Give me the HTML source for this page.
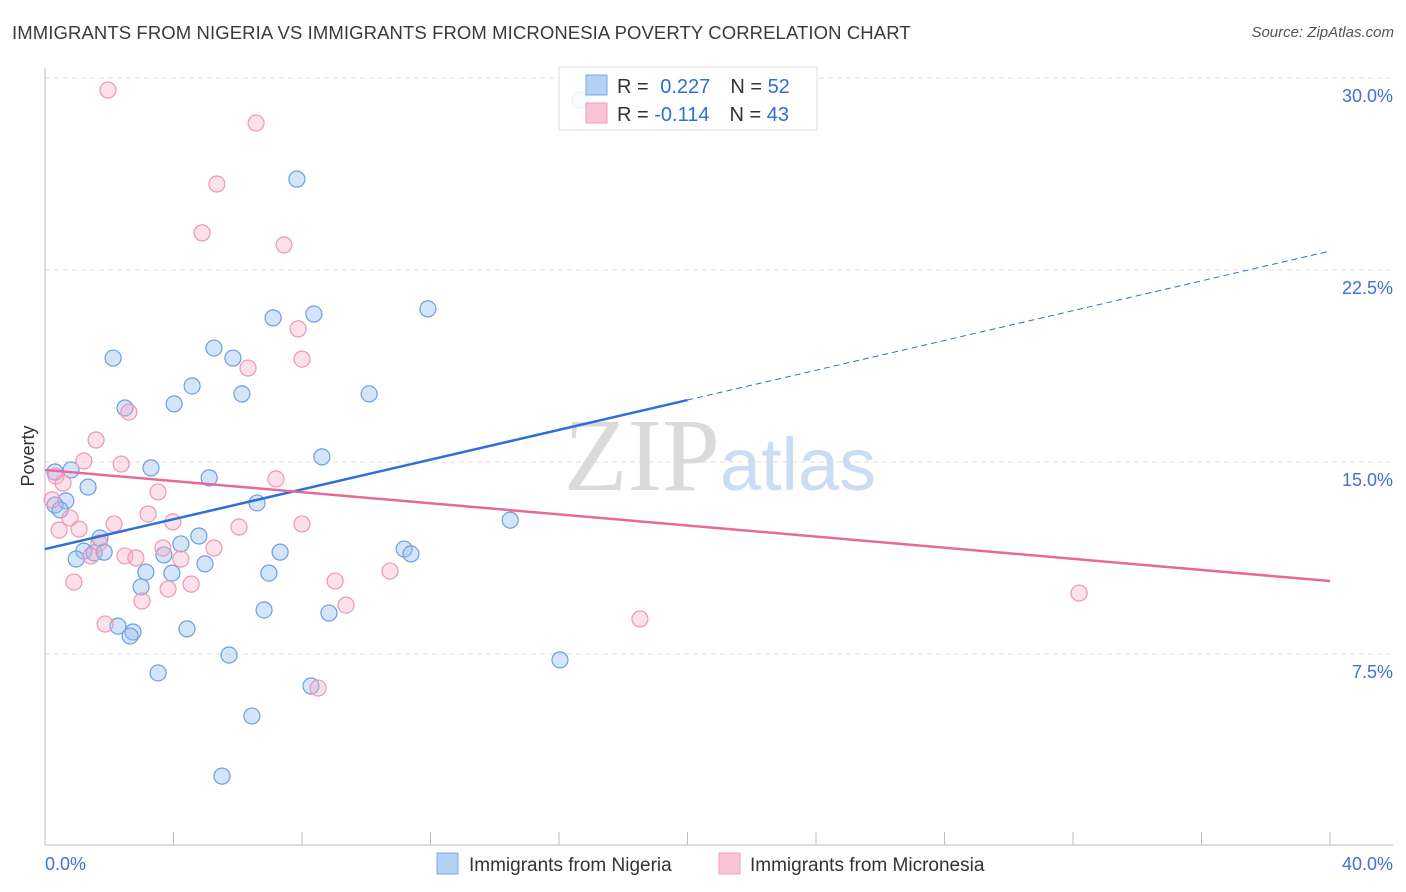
<!DOCTYPE html>
<html><head><meta charset="utf-8">
<style>
body{margin:0;background:#fff;font-family:"Liberation Sans",sans-serif;}
#wrap{position:relative;width:1406px;height:892px;overflow:hidden;}
.title{position:absolute;left:12px;top:22px;font-size:18.5px;color:#3a3a3a;letter-spacing:0.1px}
.source{position:absolute;right:12px;top:24px;font-size:15px;color:#555;font-style:italic}
</style></head>
<body>
<div id="wrap">
<div class="title">IMMIGRANTS FROM NIGERIA VS IMMIGRANTS FROM MICRONESIA POVERTY CORRELATION CHART</div>
<div class="source">Source: ZipAtlas.com</div>
<svg id="chart" width="1406" height="892" style="position:absolute;left:0;top:0"></svg>
</div>
<script>
const yTicks=[7.5,15,22.5,30];
const yTickLabels=["7.5%","15.0%","22.5%","30.0%"];
const xTickLabels=["0.0%","40.0%"];
const nigeriaX=[16.65,7.84,11.92,7.10,8.37,2.12,5.26,5.85,4.58,6.13,10.09,4.02,2.49,8.62,3.30,0.81,0.31,5.11,1.34,0.65,6.60,0.31,0.47,14.48,4.79,1.71,4.23,1.21,1.53,1.84,3.70,0.97,7.32,11.18,11.39,4.98,3.14,3.95,6.97,2.99,6.82,8.84,2.27,2.74,2.65,4.42,5.73,16.03,3.52,8.28,6.44,5.51];
const nigeriaY=[29.14,26.05,20.98,20.63,20.78,19.06,19.45,19.06,17.97,17.66,17.66,17.27,17.11,15.20,14.77,14.69,14.61,14.38,14.02,13.48,13.40,13.32,13.13,12.73,12.11,12.03,11.80,11.52,11.45,11.48,11.37,11.21,11.48,11.60,11.41,11.02,10.70,10.66,10.66,10.12,9.22,9.10,8.59,8.36,8.20,8.48,7.46,7.27,6.76,6.25,5.08,2.73];
const micronesiaX=[1.96,6.57,5.35,4.89,7.44,7.88,8.00,6.32,2.61,1.59,1.21,2.37,0.34,0.56,7.19,3.52,0.22,3.21,0.78,3.98,8.00,0.44,1.06,2.15,6.04,5.26,3.67,1.68,1.43,2.49,2.83,4.23,9.03,10.74,0.90,4.55,3.83,3.02,9.37,1.87,18.52,32.19,8.50];
const micronesiaY=[29.53,28.24,25.86,23.95,23.48,20.20,19.02,18.67,16.95,15.86,15.04,14.92,14.45,14.18,14.34,13.83,13.52,12.97,12.81,12.66,12.58,12.34,12.38,12.58,12.46,11.64,11.64,11.84,11.33,11.33,11.25,11.21,10.35,10.74,10.31,10.23,10.04,9.57,9.41,8.67,8.87,9.88,6.17];
const nigeriaTrend=[11.60,0.291];
const micronesiaTrend=[14.69,-0.1085];

const svg=document.getElementById('chart');
const NS='http://www.w3.org/2000/svg';
const X0=45,X1=1330,XMAX=40,Y0=846,PPU=25.6;
function sx(v){return X0+(v/XMAX)*(X1-X0);}
function sy(v){return Y0-v*PPU;}
function mk(t,a,p){const e=document.createElementNS(NS,t);for(const k in a)e.setAttribute(k,a[k]);(p||svg).appendChild(e);return e;}

yTicks.forEach((t,i)=>{
  const g=mk('line',{x1:X0,x2:1393,y1:sy(t),y2:sy(t),stroke:'#dcdcdc','stroke-dasharray':'5,4','stroke-width':1});
  
  
  const l=mk('text',{x:1393,y:sy(t)+24,'text-anchor':'end','font-size':18,fill:'#3d72d6','font-family':'Liberation Sans, sans-serif'});
  l.textContent=yTickLabels[i];
  
  
});
const ax=mk('line',{x1:X0,x2:X0,y1:68,y2:845,stroke:'#bbb','stroke-width':1});


const bx=mk('line',{x1:X0,x2:1393,y1:845,y2:845,stroke:'#bbb','stroke-width':1});


for(let i=0;i<=10;i++){
  const tk=mk('line',{x1:sx(i*4),x2:sx(i*4),y1:832,y2:845,stroke:'#bbb','stroke-width':1});
  
  
}
[[0,'start',45],[40,'end',1393]].forEach((d,i)=>{
  const t=mk('text',{x:d[2],y:870,'text-anchor':d[1],'font-size':18,fill:'#3d72d6','font-family':'Liberation Sans, sans-serif'});
  t.textContent=xTickLabels[i];
  
  
});
const yt=mk('text',{x:34,y:456,'text-anchor':'middle','font-size':18,fill:'#333',transform:'rotate(-90 34 456)','font-family':'Liberation Sans, sans-serif'});
yt.textContent='Poverty';


const wm=mk('text',{x:720,y:490,'text-anchor':'middle','font-family':'Liberation Serif, serif'});
wm.innerHTML='<tspan fill="#dadada" font-size="104">ZIP</tspan><tspan fill="#ccdcf2" font-family="Liberation Sans, sans-serif" font-size="74">atlas</tspan>';



nigeriaX.forEach((x,i)=>{
  const c=mk('circle',{cx:sx(x),cy:sy(nigeriaY[i]),r:8,fill:'rgba(150,190,240,0.4)',stroke:'#6a9fe0','stroke-width':1.2});
  
  
});
micronesiaX.forEach((x,i)=>{
  const c=mk('circle',{cx:sx(x),cy:sy(micronesiaY[i]),r:8,fill:'rgba(245,170,195,0.35)',stroke:'#ee97b3','stroke-width':1.2});
  
  
});
const bt=mk('line',{x1:sx(0),y1:sy(nigeriaTrend[0]),x2:sx(20),y2:sy(nigeriaTrend[0]+20*nigeriaTrend[1]),stroke:'#2f6fd6','stroke-width':2.5});


const bd=mk('line',{x1:sx(20),y1:sy(nigeriaTrend[0]+20*nigeriaTrend[1]),x2:sx(40),y2:sy(nigeriaTrend[0]+40*nigeriaTrend[1]),stroke:'#2f6fd6','stroke-width':1,'stroke-dasharray':'6,4'});


const pt=mk('line',{x1:sx(0),y1:sy(micronesiaTrend[0]),x2:sx(40),y2:sy(micronesiaTrend[0]+40*micronesiaTrend[1]),stroke:'#e8689a','stroke-width':2.5});



const lg=mk('g',{});


mk('rect',{x:559,y:67,width:258,height:63,fill:'rgba(255,255,255,0.85)',stroke:'#ddd','stroke-width':1},lg);
mk('rect',{x:586,y:75,width:21,height:20,fill:'#b5d0f5',stroke:'#7aa8e8'},lg);
mk('rect',{x:586,y:103,width:21,height:20,fill:'#f9c5d5',stroke:'#ef9fb9'},lg);
const r1=mk('text',{x:617,y:93,'font-size':20,'font-family':'Liberation Sans, sans-serif',fill:'#333'},lg);
r1.innerHTML='R = <tspan fill="#2f6fd6" dx="6">0.227</tspan><tspan dx="20">N = </tspan><tspan fill="#2f6fd6">52</tspan>';
const r2=mk('text',{x:617,y:121,'font-size':20,'font-family':'Liberation Sans, sans-serif',fill:'#333'},lg);
r2.innerHTML='R = <tspan fill="#2f6fd6">-0.114</tspan><tspan dx="20">N = </tspan><tspan fill="#2f6fd6">43</tspan>';

const bl=mk('g',{});


mk('rect',{x:437,y:853,width:21,height:21,fill:'#b5d0f5',stroke:'#7aa8e8'},bl);
const t1=mk('text',{x:469,y:871,'font-size':19,'font-family':'Liberation Sans, sans-serif',fill:'#333'},bl);
t1.textContent='Immigrants from Nigeria';
mk('rect',{x:719,y:853,width:21,height:21,fill:'#f9c5d5',stroke:'#ef9fb9'},bl);
const t2=mk('text',{x:750,y:871,'font-size':19,'font-family':'Liberation Sans, sans-serif',fill:'#333'},bl);
t2.textContent='Immigrants from Micronesia';
</script>
</body></html>
